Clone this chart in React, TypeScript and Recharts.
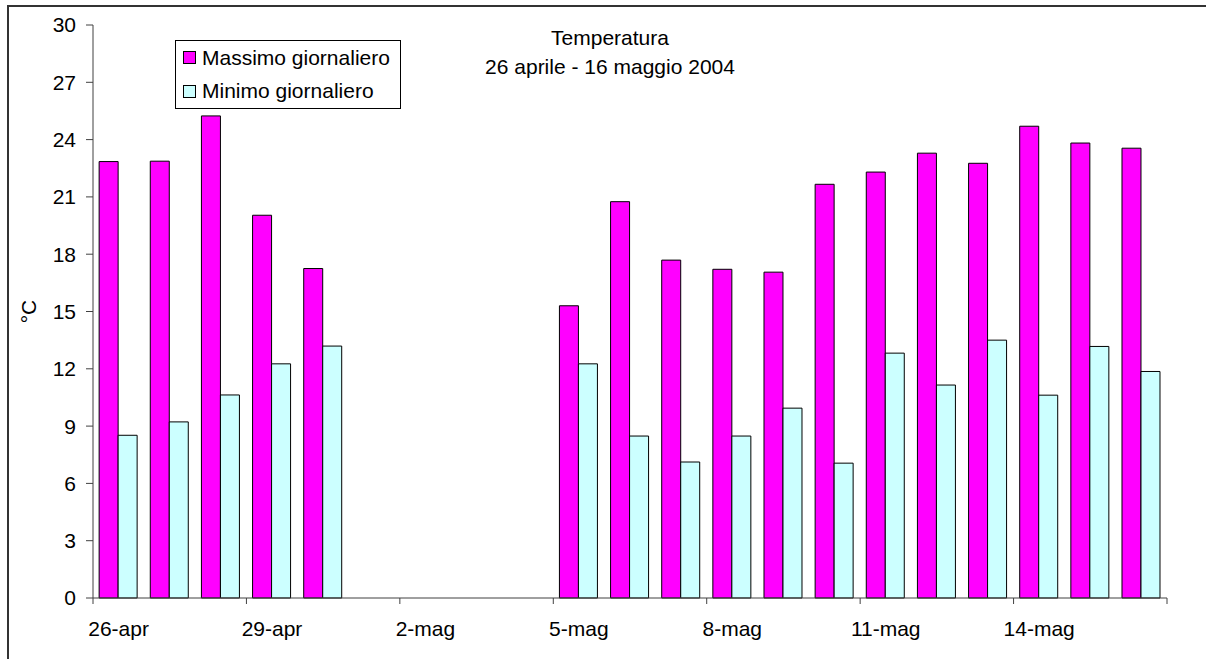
import React from "react"
import { BarChart, Bar, XAxis, YAxis, Legend, Label } from "recharts"

// giorni dal 26 aprile al 16 maggio 2004 (1-4 maggio senza dati)
const days = [
  "26-apr", "27-apr", "28-apr", "29-apr", "30-apr",
  "1-mag", "2-mag", "3-mag", "4-mag", "5-mag", "6-mag", "7-mag", "8-mag",
  "9-mag", "10-mag", "11-mag", "12-mag", "13-mag", "14-mag", "15-mag", "16-mag",
]

const maxTemp = [
  22.85, 22.87, 25.24, 20.04, 17.25,
  null, null, null, null,
  15.3, 20.75, 17.69, 17.21, 17.06, 21.66, 22.3, 23.29, 22.76, 24.7, 23.82, 23.55,
]

const minTemp = [
  8.52, 9.22, 10.63, 12.26, 13.19,
  null, null, null, null,
  12.26, 8.48, 7.12, 8.48, 9.94, 7.06, 12.82, 11.15, 13.5, 10.62, 13.17, 11.86,
]

const yTicks = [0, 3, 6, 9, 12, 15, 18, 21, 24, 27, 30]
const labelEvery = 3

const data = days.map((day, i) => ({ day, max: maxTemp[i], min: minTemp[i] }))

const FONT = '"Liberation Sans", Arial, sans-serif'
const AXIS = "#404040"

// label centred on the day, tick mark on the boundary before it (Excel style)
function DayTick({ x, y, payload, index }: any) {
  const i = payload?.index ?? index
  const half = payload?.offset ?? 25.6
  const marks: number[] = []
  if (i % labelEvery === 0) marks.push(x - half)
  if (i === days.length - 1) marks.push(x + half)
  return (
    <g>
      {marks.map((mx) => (
        <line key={mx} x1={mx} x2={mx} y1={y} y2={y + 6} stroke={AXIS} />
      ))}
      {i % labelEvery === 0 && (
        <text x={x} y={y + 38} textAnchor="middle" fontFamily={FONT} fontSize={21} fill="#000">
          {payload.value}
        </text>
      )}
    </g>
  )
}

function LegendBox({ payload }: any) {
  return (
    <div
      style={{
        border: "1px solid #000",
        background: "#fff",
        padding: "0 10px 0 7px",
        fontFamily: FONT,
        fontSize: 21,
        color: "#000",
      }}
    >
      {(payload || []).map((p: any) => (
        <div key={p.value} style={{ display: "flex", alignItems: "center", height: 33.5, whiteSpace: "nowrap" }}>
          <span
            style={{
              display: "inline-block",
              width: 11,
              height: 11,
              background: p.color,
              border: "1px solid #000",
              marginRight: 6,
            }}
          />
          {p.value}
        </div>
      ))}
    </div>
  )
}

function YLabel({ viewBox }: any) {
  const cx = viewBox.x + 15
  const cy = viewBox.y + viewBox.height / 2
  return (
    <text
      x={cx}
      y={cy}
      transform={`rotate(-90, ${cx}, ${cy})`}
      textAnchor="middle"
      dominantBaseline="central"
      fontFamily={FONT}
      fontSize={21}
      fill="#000"
    >
      °C
    </text>
  )
}

export default function App() {
  return (
    <div style={{ position: "absolute", left: 0, top: 0, width: 1206, height: 659, background: "#fff", overflow: "hidden" }}>
      <div
        style={{
          position: "absolute",
          left: 7,
          top: 5,
          width: 1300,
          height: 700,
          borderLeft: "2px solid #333",
          borderTop: "2px solid #333",
        }}
      />
      <div
        style={{
          position: "absolute",
          left: 0,
          width: 1220,
          top: 24,
          textAlign: "center",
          fontFamily: FONT,
          fontSize: 21,
          lineHeight: "28.6px",
          color: "#000",
        }}
      >
        Temperatura
        <br />
        26 aprile - 16 maggio 2004
      </div>
      <div style={{ position: "absolute", left: 0, top: 0 }}>
        <BarChart
          width={1206}
          height={659}
          data={data}
          margin={{ top: 25, right: 39, bottom: 11, left: 13 }}
          barCategoryGap="12%"
          barGap={0}
        >
          <XAxis
            dataKey="day"
            height={50}
            interval={0}
            axisLine={{ stroke: AXIS }}
            tickLine={false}
            tickSize={0}
            tickMargin={0}
            tick={<DayTick />}
          />
          <YAxis
            width={80}
            domain={[0, 30]}
            ticks={yTicks}
            interval={0}
            tickSize={7}
            tickMargin={10}
            axisLine={{ stroke: AXIS }}
            tickLine={{ stroke: AXIS }}
            tick={{ fontFamily: FONT, fontSize: 21, fill: "#000" }}
            label={<Label content={YLabel} />}
          />
          <Legend
            layout="horizontal"
            verticalAlign="middle"
            align="center"
            wrapperStyle={{ left: 175, top: 40, width: "auto", height: "auto" }}
            content={LegendBox}
          />
          <Bar
            dataKey="max"
            name="Massimo giornaliero"
            fill="#FF00FF"
            stroke="#000"
            strokeWidth={1}
            isAnimationActive={false}
          />
          <Bar
            dataKey="min"
            name="Minimo giornaliero"
            fill="#CCFFFF"
            stroke="#000"
            strokeWidth={1}
            isAnimationActive={false}
          />
        </BarChart>
      </div>
    </div>
  )
}
